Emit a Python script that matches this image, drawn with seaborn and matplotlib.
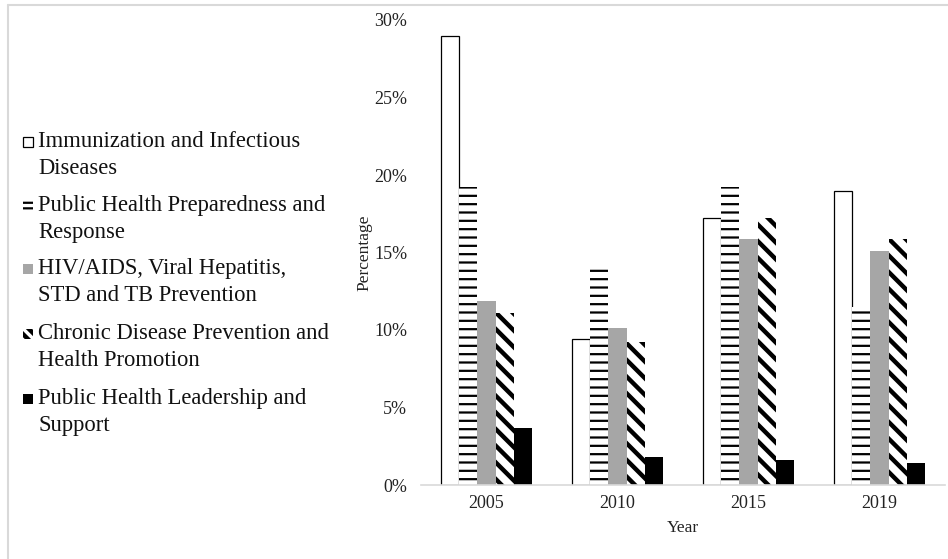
import matplotlib
matplotlib.use("Agg")
import matplotlib.pyplot as plt
import seaborn as sns
import pandas as pd
from matplotlib.patches import Rectangle
from matplotlib.lines import Line2D
from matplotlib.ticker import FuncFormatter

# Share of funding by program area (%)
years = ["2005", "2010", "2015", "2019"]
programs = [
    "Immunization and Infectious\nDiseases",
    "Public Health Preparedness and\nResponse",
    "HIV/AIDS, Viral Hepatitis,\nSTD and TB Prevention",
    "Chronic Disease Prevention and\nHealth Promotion",
    "Public Health Leadership and\nSupport",
]
immunization = [29.0, 9.4, 17.2, 19.0]
preparedness = [19.2, 14.2, 19.2, 11.5]
hiv_std_tb = [11.9, 10.1, 15.9, 15.1]
chronic = [11.1, 9.2, 17.2, 15.9]
leadership = [3.7, 1.8, 1.6, 1.4]
y_ticks = [0, 5, 10, 15, 20, 25, 30]

series = [immunization, preparedness, hiv_std_tb, chronic, leadership]
rows = []
for name, vals in zip(programs, series):
    for yr, v in zip(years, vals):
        rows.append({"Year": yr, "Percentage": v, "Program": name})
df = pd.DataFrame(rows)

sns.set_theme(style="white")
plt.rcParams["font.family"] = ["Liberation Serif", "DejaVu Serif"]
plt.rcParams["hatch.linewidth"] = 1.6

W, H = 948, 559
fig = plt.figure(figsize=(W / 100, H / 100), dpi=100)
ax = fig.add_axes([421 / W, 1 - 485 / H, 524 / W, 465 / H])

styles = [
    dict(fc="white", ec="black", lw=0.9, hatch=None, hlw=1.6),
    dict(fc="white", ec="black", lw=0, hatch="--", hlw=1.6),
    dict(fc="#a6a6a6", ec="#a6a6a6", lw=0, hatch=None, hlw=1.6),
    dict(fc="white", ec="black", lw=0, hatch="\\\\", hlw=3.2),
    dict(fc="black", ec="black", lw=0, hatch=None, hlw=1.6),
]

sns.barplot(data=df, x="Year", y="Percentage", hue="Program",
            order=years, hue_order=programs,
            palette=[s["fc"] for s in styles], saturation=1,
            width=0.7, errorbar=None, legend=False, ax=ax)


def style_patch(p, s, hatch=None):
    p.set_facecolor(s["fc"])
    p.set_edgecolor(s["ec"])
    p.set_linewidth(s["lw"])
    h = hatch or s["hatch"]
    if h:
        p.set_hatch(h)
        if hasattr(p, "set_hatch_linewidth"):
            p.set_hatch_linewidth(s["hlw"])


for cont, s in zip(ax.containers, styles):
    for p in cont.patches:
        style_patch(p, s)

ax.set_ylim(0, 30)
ax.set_yticks(y_ticks)
ax.yaxis.set_major_formatter(FuncFormatter(lambda v, _: f"{v:.0f}%"))
for side in ["left", "top", "right"]:
    ax.spines[side].set_visible(False)
ax.spines["bottom"].set_color("#d9d9d9")
ax.spines["bottom"].set_linewidth(1.2)
ax.tick_params(axis="both", length=0, labelsize=13, colors="#222222")
ax.tick_params(axis="y", pad=10)
ax.tick_params(axis="x", pad=7)
ax.set_ylabel("Percentage", fontsize=12.5, color="#222222")
ax.set_xlabel("Year", fontsize=12.5, color="#222222")
ax.yaxis.set_label_coords(-0.092, 0.5)
ax.xaxis.set_label_coords(0.5, -0.075)

# Legend on the left, handle beside the first line of each label
first_baselines = [147, 211, 274, 339, 404]
line_gap = 26.7
legend_hatch = [None, "---", None, "\\\\\\", None]
for name, s, yb, lh in zip(programs, styles, first_baselines, legend_hatch):
    rect = Rectangle((23 / W, 1 - yb / H), 10 / W, 10 / H,
                     transform=fig.transFigure, figure=fig)
    style_patch(rect, s, lh)
    if lh:
        rect.set_linewidth(0)
    fig.patches.append(rect)
    n_lines = name.count("\n") + 1
    fig.text(38 / W, 1 - (yb + line_gap * (n_lines - 1)) / H, name,
             fontsize=16.3, va="baseline", ha="left", color="#111111",
             linespacing=1.375)

# Light frame around the figure
frame_col = "#d9d9d9"
fig.add_artist(Line2D([8 / W, 1], [1 - 5 / H, 1 - 5 / H],
                      transform=fig.transFigure, color=frame_col, lw=1.5))
fig.add_artist(Line2D([8 / W, 8 / W], [0, 1 - 5 / H],
                      transform=fig.transFigure, color=frame_col, lw=1.5))

fig.savefig("out.png", dpi=100, facecolor="white")
